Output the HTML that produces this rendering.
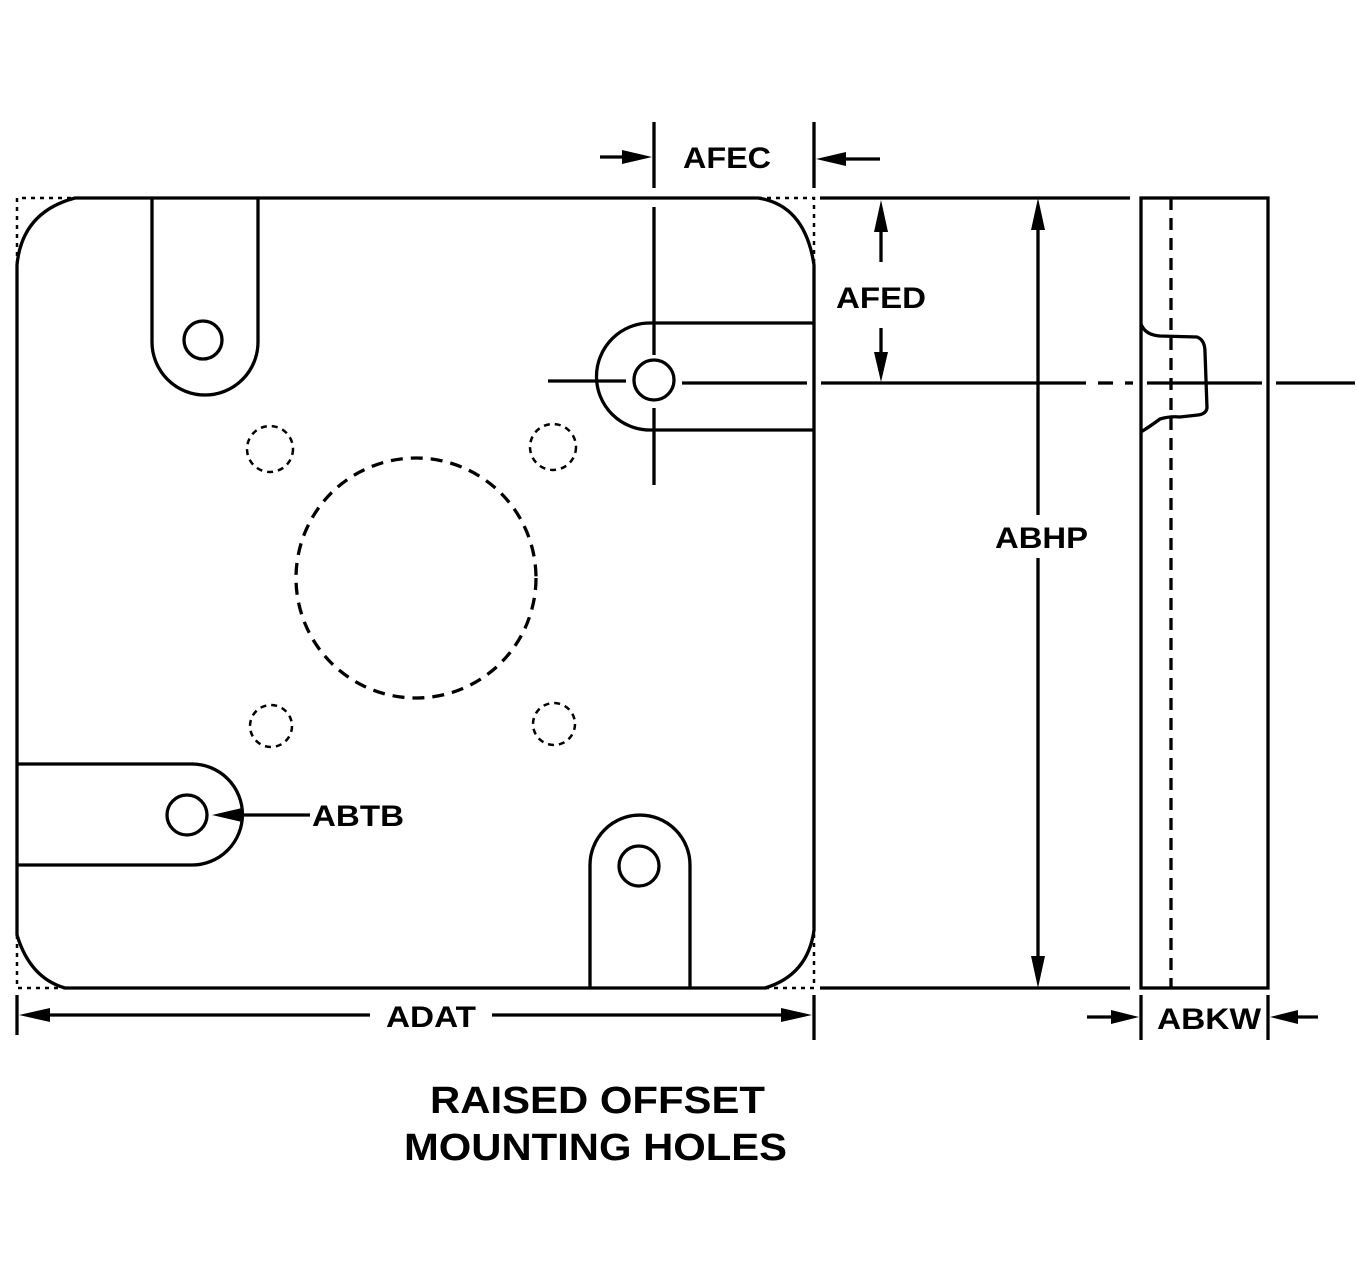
<!DOCTYPE html>
<html><head><meta charset="utf-8"><style>
html,body{margin:0;padding:0;background:#fff}
svg{display:block}
text{font-family:"Liberation Sans",Arial,sans-serif;font-weight:bold;fill:#000}
</style></head><body>
<svg width="1357" height="1288" viewBox="0 0 1357 1288" xmlns="http://www.w3.org/2000/svg">
<g fill="none" stroke="#000" stroke-width="3.3">
<path d="M75 198 L758 198 Q805 205 814 265 L814 930 Q808 975 765 988 L65 988 Q30 978 17 935 L17 265 Q22 212 75 198 Z"/>
<g stroke-dasharray="4 5" stroke-width="2.5">
<path d="M17 265 L17 198 L75 198"/>
<path d="M758 198 L814 198 L814 265"/>
<path d="M17 935 L17 988 L65 988"/>
<path d="M765 988 L814 988 L814 930"/>
</g>
<line x1="820" y1="198" x2="1130" y2="198"/>
<line x1="820" y1="988" x2="1130" y2="988"/>
<path d="M152 198 L152 342 A53 53 0 0 0 258 342 L258 198"/>
<circle cx="203" cy="340" r="19"/>
<path d="M814 323 L650 323 A53 53 0 0 0 650 430 L814 430"/>
<circle cx="654" cy="380" r="20"/>
<path d="M17 764 L192 764 A50.5 50.5 0 0 1 192 865 L17 865"/>
<circle cx="187" cy="815" r="20"/>
<path d="M590 988 L590 865 A50 50 0 0 1 690 865 L690 988"/>
<circle cx="639" cy="866" r="20"/>
<g stroke-dasharray="12 8">
<circle cx="416" cy="578" r="120"/>
</g>
<g stroke-dasharray="6 5" stroke-width="2.5">
<circle cx="270" cy="449" r="23"/>
<circle cx="553" cy="447" r="23"/>
<circle cx="271" cy="726" r="21"/>
<circle cx="554" cy="724" r="21"/>
</g>
<line x1="654" y1="122" x2="654" y2="188"/>
<line x1="654" y1="207" x2="654" y2="355"/>
<line x1="654" y1="408" x2="654" y2="485"/>
<line x1="548" y1="381" x2="626" y2="381"/>
<line x1="682" y1="383" x2="807" y2="383"/>
<line x1="821" y1="383" x2="1086" y2="383"/>
<line x1="1098" y1="383" x2="1113" y2="383"/>
<line x1="1125" y1="383" x2="1133" y2="383"/>
<line x1="1147" y1="383" x2="1262" y2="383"/>
<line x1="1276" y1="383" x2="1355" y2="383"/>
<line x1="814" y1="122" x2="814" y2="188"/>
<line x1="600" y1="157" x2="625" y2="157"/>
<line x1="840" y1="159" x2="880" y2="159"/>
<line x1="881" y1="225" x2="881" y2="262"/>
<line x1="881" y1="328" x2="881" y2="360"/>
<line x1="1038" y1="225" x2="1038" y2="515"/>
<line x1="1038" y1="558" x2="1038" y2="962"/>
<line x1="17" y1="995" x2="17" y2="1035"/>
<line x1="814" y1="995" x2="814" y2="1040"/>
<line x1="45" y1="1015" x2="370" y2="1015"/>
<line x1="492" y1="1015" x2="788" y2="1015"/>
<rect x="1141" y="198" width="127" height="790"/>
<line x1="1171" y1="198" x2="1171" y2="988" stroke-dasharray="12 8"/>
<path d="M1141 324 Q1145 335 1160 336 L1197 337 Q1205 340 1205 352 L1207 408 Q1206 414 1198 415 L1180 417 Q1170 416 1160 419 Q1152 425 1141 432"/>
<line x1="1141" y1="995" x2="1141" y2="1040"/>
<line x1="1268" y1="995" x2="1268" y2="1040"/>
<line x1="1087" y1="1017" x2="1115" y2="1017"/>
<line x1="1295" y1="1017" x2="1318" y2="1017"/>
<line x1="235" y1="815" x2="310" y2="815"/>
</g>
<g fill="#000" stroke="none">
<polygon points="652,157 622,150 622,164"/>
<polygon points="816,159 846,152 846,166"/>
<polygon points="881,200 874,232 888,232"/>
<polygon points="881,382 874,352 888,352"/>
<polygon points="1038,198 1031,230 1045,230"/>
<polygon points="1038,988 1031,956 1045,956"/>
<polygon points="19,1015 50,1008 50,1022"/>
<polygon points="812,1015 781,1008 781,1022"/>
<polygon points="1139,1017 1111,1010 1111,1024"/>
<polygon points="1270,1017 1298,1010 1298,1024"/>
<polygon points="212,815 242,808 242,822"/>
</g>
<g font-size="30">
<text x="683" y="168" textLength="88" lengthAdjust="spacingAndGlyphs">AFEC</text>
<text x="836" y="308" textLength="90" lengthAdjust="spacingAndGlyphs">AFED</text>
<text x="995" y="548" textLength="93" lengthAdjust="spacingAndGlyphs">ABHP</text>
<text x="386" y="1027" textLength="90" lengthAdjust="spacingAndGlyphs">ADAT</text>
<text x="1157" y="1029" textLength="104" lengthAdjust="spacingAndGlyphs">ABKW</text>
<text x="312" y="826" textLength="92" lengthAdjust="spacingAndGlyphs">ABTB</text>
</g>
<g font-size="38">
<text x="430" y="1113" textLength="335" lengthAdjust="spacingAndGlyphs">RAISED OFFSET</text>
<text x="404" y="1160" textLength="383" lengthAdjust="spacingAndGlyphs">MOUNTING HOLES</text>
</g>
</svg>
</body></html>
